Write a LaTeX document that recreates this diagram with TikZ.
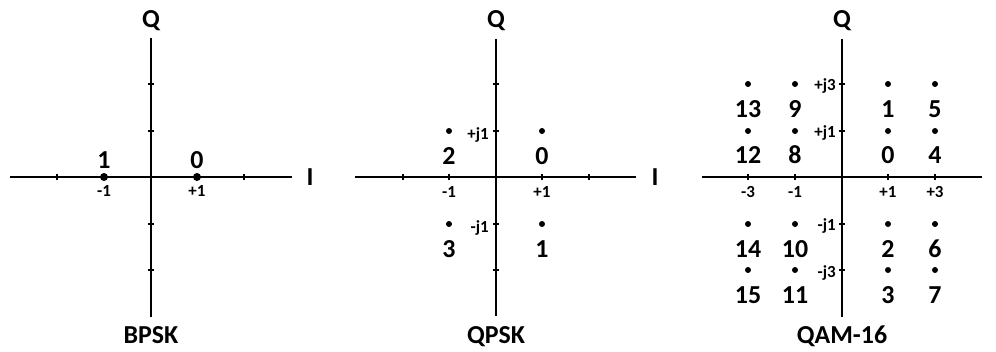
\documentclass[tikz,border=0pt]{standalone}
\usepackage{fontspec}
\setmainfont{Carlito}
\begin{document}
\begin{tikzpicture}[x=1bp,y=-1bp,
  ax/.style={line width=1.6bp},
  tk/.style={line width=1.4bp},
  big/.style={font=\fontsize{26}{26}\selectfont\bfseries, inner sep=0pt, anchor=base},
  sm/.style={font=\fontsize{17}{17}\selectfont\bfseries, inner sep=0pt, anchor=base},
  smr/.style={sm, anchor=base east},
  dotb/.style={circle, fill, inner sep=0pt, minimum size=8bp},
  dot/.style={circle, fill, inner sep=0pt, minimum size=6bp}]
\useasboundingbox (0,0) rectangle (996,351);

% ---------------- BPSK ----------------
\coordinate (bL) at (10,177); \coordinate (bR) at (292,177);
\coordinate (bT) at (151,38); \coordinate (bB) at (151,317);
\draw[ax] (bL) -- (bR);
\draw[ax] (bT) -- (bB);
\foreach \x in {57,104,197,244} \draw[tk] (\x,174) -- (\x,180);
\foreach \y in {84,131,224,270} \draw[tk] (148,\y) -- (154,\y);
\node[dotb] (bd1) at (104,177) {};
\node[dotb] (bd0) at (197,177) {};
\node[big] (bl1) at (104,168) {1};
\node[big] (bl0) at (197,168) {0};
\node[sm] (bm1) at (104,196) {-1};
\node[sm] (bp1) at (197,196) {+1};
\node[big] (bQ) at (151,27) {Q};
\node[big] (bI) at (310,185) {I};
\node[big] (bT1) at (151,343) {BPSK};

% ---------------- QPSK ----------------
\coordinate (qL) at (355,177); \coordinate (qR) at (636,177);
\coordinate (qT) at (496,39); \coordinate (qB) at (496,316);
\draw[ax] (qL) -- (qR);
\draw[ax] (qT) -- (qB);
\foreach \x in {403,449,542,589} \draw[tk] (\x,174) -- (\x,180);
\foreach \y in {84,131,224,270} \draw[tk] (493,\y) -- (499,\y);
\node[dot] (qd2) at (449,131) {};
\node[dot] (qd0) at (542,131) {};
\node[dot] (qd3) at (449,224) {};
\node[dot] (qd1) at (542,224) {};
\node[big] (ql2) at (449,164) {2};
\node[big] (ql0) at (542,164) {0};
\node[big] (ql3) at (449,257) {3};
\node[big] (ql1) at (542,257) {1};
\node[sm] (qm1) at (449,197) {-1};
\node[sm] (qp1) at (542,197) {+1};
\node[smr] (qpj1) at (489,139) {+j1};
\node[smr] (qmj1) at (489,232) {-j1};
\node[big] (qQ) at (496,27) {Q};
\node[big] (qI) at (655,185) {I};
\node[big] (qT1) at (496,343) {QPSK};

% ---------------- QAM-16 ----------------
\coordinate (aL) at (702,177); \coordinate (aR) at (982,177);
\coordinate (aT) at (842,39); \coordinate (aB) at (842,317);
\draw[ax] (aL) -- (aR);
\draw[ax] (aT) -- (aB);
\foreach \x in {748,795,888,935} \draw[tk] (\x,174) -- (\x,180);
\foreach \y in {84,131,224,270} \draw[tk] (839,\y) -- (845,\y);
\foreach \x/\i in {748/a,795/b,888/c,935/d}
  \foreach \y/\j in {84/a,131/b,224/c,270/d}
    \node[dot] (ad\i\j) at (\x,\y) {};
\foreach \x/\y/\t in {748/117/13,795/117/9,888/117/1,935/117/5,
                      748/163/12,795/163/8,888/163/0,935/163/4,
                      748/257/14,795/257/10,888/257/2,935/257/6,
                      748/303/15,795/303/11,888/303/3,935/303/7}
  \node[big] (al\t) at (\x,\y) {\t};
\node[sm] (am3) at (748,197) {-3};
\node[sm] (am1) at (795,197) {-1};
\node[sm] (ap1) at (888,197) {+1};
\node[sm] (ap3) at (935,197) {+3};
\node[smr] (apj3) at (836,90) {+j3};
\node[smr] (apj1) at (836,137) {+j1};
\node[smr] (amj1) at (836,230) {-j1};
\node[smr] (amj3) at (836,277) {-j3};
\node[big] (aQ) at (842,27) {Q};
\node[big] (aT1) at (842,343) {QAM-16};
\end{tikzpicture}
\end{document}
